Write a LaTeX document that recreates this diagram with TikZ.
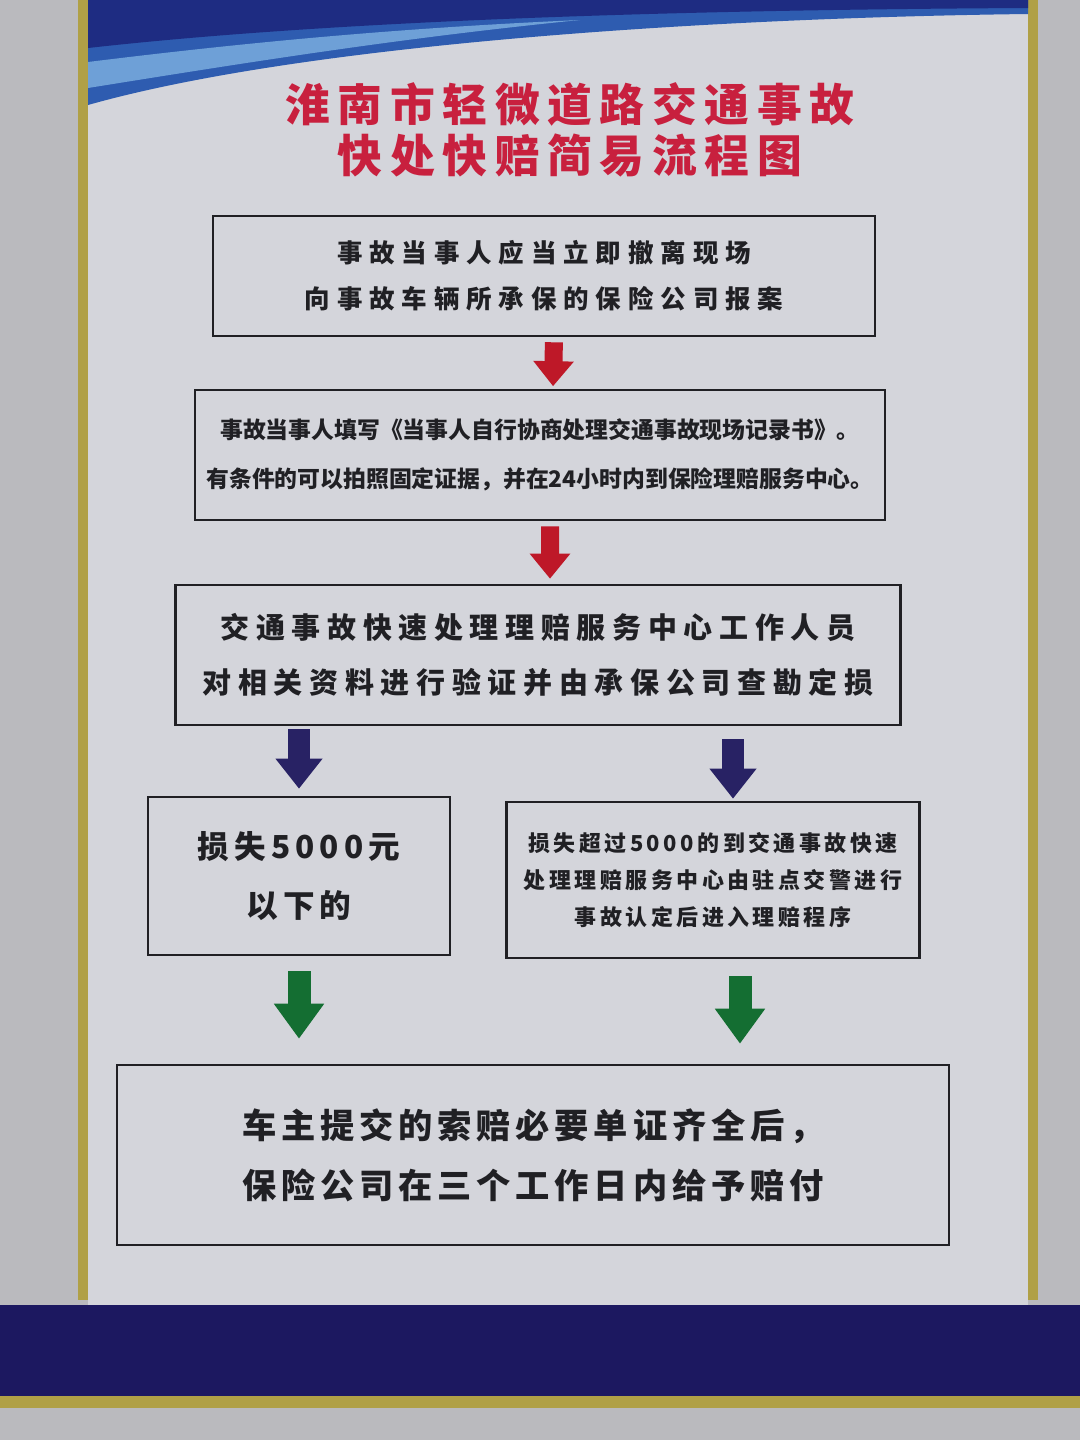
\documentclass[tikz,border=0pt]{standalone}
\usepackage{fontspec}
\newfontfamily\cjk{Noto Sans CJK SC}
\usepackage{tikz}
\usetikzlibrary{arrows.meta, positioning, calc}
\definecolor{wallgray}{RGB}{186,186,190}
\definecolor{postergray}{RGB}{212,213,219}
\definecolor{framegold}{RGB}{176,160,70}
\definecolor{bandnavy}{RGB}{28,24,96}
\definecolor{banddark}{RGB}{30,44,130}
\definecolor{bandmid}{RGB}{46,92,176}
\definecolor{bandlight}{RGB}{110,160,215}
\definecolor{titlered}{RGB}{200,32,62}
\definecolor{textdark}{RGB}{32,32,36}
\definecolor{arrred}{RGB}{190,24,40}
\definecolor{arrnavy}{RGB}{40,34,100}
\definecolor{arrgreen}{RGB}{20,110,50}
\tikzset{
  block/.style={rectangle, draw=textdark, fill=postergray, line width=1.5pt, align=center, text=textdark, font=\cjk\bfseries},
  titletext/.style={align=center, text=titlered, font=\cjk\bfseries\fontsize{25.5pt}{29pt}\selectfont\addfontfeatures{LetterSpace=17}},
  redarrow/.style={arrred, line width=0.36cm, -{Triangle[width=0.78cm, length=0.5cm]}},
  navyarrow/.style={arrnavy, line width=0.44cm, -{Triangle[width=0.9cm, length=0.6cm]}},
  greenarrow/.style={arrgreen, line width=0.46cm, -{Triangle[width=0.96cm, length=0.7cm]}}
}

\begin{document}
\begin{tikzpicture}[x=0.02cm, y=-0.02cm]
  \useasboundingbox (0,0) rectangle (1080,1440);
  % Wall and poster
  \fill[wallgray] (0,0) rectangle (1080,1440);
  \fill[postergray] (88,0) rectangle (1028,1400);
  \fill[framegold] (78,0) rectangle (88,1300);
  \fill[framegold] (1028,0) rectangle (1038,1300);

  % Top band
  \fill[bandmid] (88,0) -- (1028,0) -- (1028,14) .. controls (700,18) and (300,45) .. (88,105) -- cycle;
  \fill[bandlight] (88,62) .. controls (250,42) and (400,28) .. (580,20) .. controls (400,38) and (250,62) .. (88,88) -- cycle;
  \fill[banddark] (88,0) -- (1028,0) -- (1028,8) .. controls (650,10) and (320,22) .. (88,48) -- cycle;

  % Bottom band
  \fill[bandnavy] (0,1305) rectangle (1080,1396);
  \fill[framegold] (0,1396) rectangle (1080,1408);

  % Title
  \node[titletext] (title) at (570,130) {淮南市轻微道路交通事故\\快处快赔简易流程图};

  % Steps
  \node[block, minimum width=13.24cm, minimum height=2.4cm,
    font=\cjk\bfseries\fontsize{14.5pt}{26pt}\selectfont\addfontfeatures{LetterSpace=27}]
    (leave) at (544,276) {事故当事人应当立即撤离现场\\向事故车辆所承保的保险公司报案};
  \node[block, minimum width=13.8cm, minimum height=2.6cm,
    font=\cjk\bfseries\fontsize{13pt}{28pt}\selectfont]
    (record) at (540,455) {事故当事人填写《当事人自行协商处理交通事故现场记录书》。\\有条件的可以拍照固定证据，并在24小时内到保险理赔服务中心。};
  \node[block, minimum width=14.5cm, minimum height=2.8cm,
    font=\cjk\bfseries\fontsize{16.5pt}{31pt}\selectfont\addfontfeatures{LetterSpace=23}]
    (verify) at (538,655) {交通事故快速处理理赔服务中心工作人员\\对相关资料进行验证并由承保公司查勘定损};
  \node[block, minimum width=6.04cm, minimum height=3.16cm,
    font=\cjk\bfseries\fontsize{18pt}{34pt}\selectfont\addfontfeatures{LetterSpace=16}]
    (small) at (299,876) {损失5000元\\以下的};
  \node[block, minimum width=8.26cm, minimum height=3.12cm,
    font=\cjk\bfseries\fontsize{12.5pt}{21pt}\selectfont\addfontfeatures{LetterSpace=16}]
    (large) at (713,880) {损失超过5000的到交通事故快速\\处理理赔服务中心由驻点交警进行\\事故认定后进入理赔程序};
  \node[block, minimum width=16.64cm, minimum height=3.6cm,
    font=\cjk\bfseries\fontsize{19.5pt}{34pt}\selectfont\addfontfeatures{LetterSpace=14}]
    (pay) at (533,1155) {车主提交的索赔必要单证齐全后，\\保险公司在三个工作日内给予赔付};

  % Arrows
  \draw[redarrow, shorten <=0.1cm, shorten >=0.05cm] ([xshift=0.2cm]leave.south) -- ([xshift=0.26cm]record.north);
  \draw[redarrow, shorten <=0.1cm, shorten >=0.1cm] ([xshift=0.2cm]record.south) -- ([xshift=0.24cm]verify.north);
  \draw[navyarrow, shorten <=0.06cm, shorten >=0.14cm] (verify.south -| small.north) -- (small.north);
  \draw[navyarrow, shorten <=0.26cm, shorten >=0.04cm] ([xshift=0.4cm]verify.south -| large.north) -- ([xshift=0.4cm]large.north);
  \draw[greenarrow, shorten <=0.3cm, shorten >=0.5cm] (small.south) -- (small.south |- pay.north);
  \draw[greenarrow, shorten <=0.34cm, shorten >=0.4cm] ([xshift=0.54cm]large.south) -- ([xshift=0.54cm]large.south |- pay.north);
\end{tikzpicture}
\end{document}
